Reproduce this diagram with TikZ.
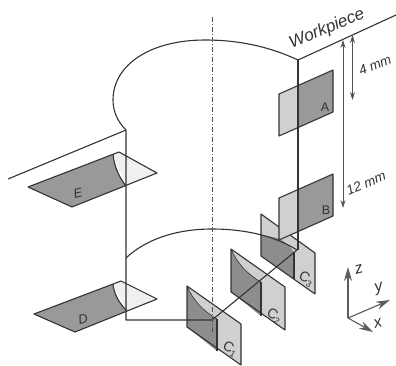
\documentclass[tikz,border=0pt]{standalone}
\usepackage{fontspec}
\setmainfont{Liberation Sans}
\usetikzlibrary{arrows.meta}
\definecolor{ink}{HTML}{333333}
\definecolor{darkface}{HTML}{999999}
\definecolor{midface}{HTML}{D0D0D0}
\definecolor{paleface}{HTML}{F0F0F0}
\newcommand{\subnum}[1]{\raisebox{-3pt}{\fontsize{9}{9}\selectfont #1}}
\begin{document}
\begin{tikzpicture}[x=1pt,y=-1pt,edge/.style={draw=ink,line width=1.1pt,line join=round},
  dim/.style={draw=ink!85,line width=0.8pt,{Stealth[length=8pt,width=5pt]}-{Stealth[length=8pt,width=5pt]}},
  axis/.style={draw=ink!80,line width=1.1pt,-{Stealth[length=14pt,width=8pt]}},
  lab/.style={text=ink,inner sep=0pt,font=\itshape\fontsize{13}{13}\selectfont}]
\useasboundingbox (0,0) rectangle (396,365);
\coordinate (topR) at (298,60);
\coordinate (topL) at (126,130);
\coordinate (botL) at (126,320);
\coordinate (botM) at (212,320);
\coordinate (botR) at (297,250);
\coordinate (arcL) at (126,258);
% insert E and D
\path[fill=paleface] (119,152) -- (157,173) -- (126,186) -- (113,154) -- cycle;
\path[fill=darkface] (28,187) -- (113,154) .. controls (114,166) and (119,177) .. (126,186) -- (72,207) -- cycle;
\draw[edge] (28,187) -- (119,152) -- (157,173) -- (72,207) -- cycle;
\draw[edge] (113,154) .. controls (114,166) and (119,177) .. (126,186);
\path[fill=paleface] (121,281) -- (157,299) -- (127,311) -- (113,284) -- cycle;
\path[fill=darkface] (34,314) -- (113,284) .. controls (114,294) and (119,303) .. (127,311) -- (75,332) -- cycle;
\draw[edge] (34,314) -- (121,281) -- (157,299) -- (75,332) -- cycle;
\draw[edge] (113,284) .. controls (114,294) and (119,303) .. (127,311);
% inserts C
\foreach \px/\py/\h in {187/286/41,231/249/43}{
  \begin{scope}[shift={(\px,\py)}]
  \path[fill=midface] (0,0) -- (54,38) -- (54,38+\h) -- (0,\h) -- cycle;
  \path[fill=darkface!92!black] (0,0) .. controls (6,14) and (16,25) .. (30,33) -- (30,24+\h) -- (0,\h) -- cycle;
  \draw[edge] (0,0) -- (54,38) -- (54,38+\h) -- (0,\h) -- cycle;
  \draw[edge,line width=0.6pt] (0,0) .. controls (6,14) and (16,25) .. (30,33);
  \draw[edge] (30,33) -- (30,24+\h);
  \end{scope}
}
\path[fill=midface] (261,214) -- (315,253) -- (315,294) -- (261,256) -- cycle;
\path[fill=darkface!92!black] (261,235) .. controls (268,236) and (274,237) .. (280,239) .. controls (286,243) and (291,247) .. (294,252) -- (294,279) -- (261,256) -- cycle;
\draw[edge] (261,214) -- (315,253) -- (315,294) -- (261,256) -- cycle;
\draw[edge] (294,252) -- (294,279);
% workpiece outline
\draw[edge] (topR) .. controls (270,47) and (240,40) .. (205,40) .. controls (150,40) and (113,65) .. (113,100) .. controls (113,112) and (118,122) .. (topL);
\draw[edge] (arcL) .. controls (145,240) and (175,229) .. (212,229) .. controls (245,229) and (275,236) .. (botR);
\draw[edge] (topL) -- (8,179);
\draw[edge] (topR) -- (396,15);
% inserts A and B
\foreach \py in {94,198}{
  \path[fill=midface] (279,\py) -- (298,\py-8) -- (298,\py+34) -- (279,\py+42) -- cycle;
  \path[fill=darkface] (298,\py-8) -- (333,\py-24) -- (333,\py+18) -- (298,\py+34) -- cycle;
  \draw[edge] (279,\py) -- (333,\py-24) -- (333,\py+18) -- (279,\py+42) -- cycle;
}
\draw[edge] (topL) -- (botL) -- (botM) -- (botR);
\draw[edge] (topR) -- (298,250);
\draw[ink!85,line width=1pt,dash pattern=on 5pt off 2pt on 1pt off 2pt] (212,17) -- (212,332);
\draw[dim] (343,40) -- (343,208);
\draw[dim] (352.5,35) -- (352.5,100);
\coordinate (org) at (348,318);
\coordinate (zEnd) at (348,267);
\coordinate (yEnd) at (390,300);
\coordinate (xEnd) at (373,332);
\draw[axis] (org) -- (zEnd);
\draw[axis] (org) -- (yEnd);
\draw[axis] (org) -- (xEnd);
\node[lab,font=\itshape\fontsize{17}{17}\selectfont,rotate=23] (workpiece) at (327,29) {Workpiece};
\node[lab,font=\itshape\fontsize{13.5}{13.5}\selectfont,rotate=22] (fourmm) at (375,65) {4 mm};
\node[lab,font=\itshape\fontsize{13.5}{13.5}\selectfont,rotate=22] (twelvemm) at (366,183) {12 mm};
\node[lab,font=\fontsize{12.5}{12.5}\selectfont] (labA) at (325,107) {A};
\node[lab,font=\fontsize{12.5}{12.5}\selectfont] (labB) at (326,210) {B};
\node[lab,rotate=12] (labE) at (78,193) {E};
\node[lab,rotate=12] (labD) at (83,319) {D};
\node[lab,font=\fontsize{14}{14}\selectfont,rotate=-30] (labCa) at (230,349) {C\subnum{1}};
\node[lab,font=\fontsize{14}{14}\selectfont,rotate=-30] (labCb) at (274,316) {C\subnum{2}};
\node[lab,font=\fontsize{14}{14}\selectfont,rotate=-30] (labCc) at (306,279) {C\subnum{3}};
\node[lab,font=\itshape\fontsize{16}{16}\selectfont,rotate=15] (labZ) at (359,269) {z};
\node[lab,font=\itshape\fontsize{16}{16}\selectfont,rotate=15] (labY) at (379,289) {y};
\node[lab,font=\itshape\fontsize{16}{16}\selectfont,rotate=15] (labX) at (378,323) {x};
\end{tikzpicture}
\end{document}
